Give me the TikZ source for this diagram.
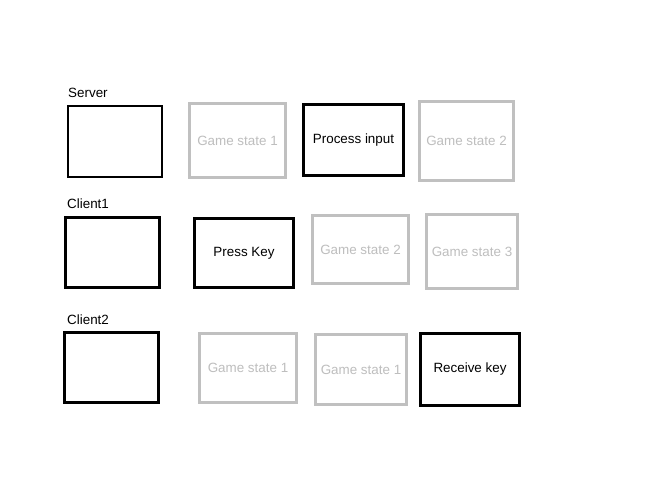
\documentclass[tikz,border=0pt]{standalone}
\usepackage{fontspec}
\setmainfont{Liberation Sans}
\usepackage{xcolor}
\definecolor{lgray}{RGB}{192,192,192}
\definecolor{tgray}{RGB}{190,190,190}

\begin{document}
\begin{tikzpicture}[x=1pt, y=-1pt,
  hbox/.style={draw=black, line width=2.6pt, align=center,
  font=\fontsize{13.4}{16}\selectfont, inner sep=0pt},
  gbox/.style={draw=lgray, line width=2.6pt, text=tgray, align=center,
  font=\fontsize{13.4}{16}\selectfont, inner sep=0pt},
  lbl/.style={anchor=base west, inner sep=0pt, font=\fontsize{13.4}{16}\selectfont}
]
\useasboundingbox[fill=white] (0,0) rectangle (656,497);
% server row
\node[hbox, minimum width=94pt, minimum height=71pt] (srv)  at (115,141.5) {};
\node[gbox, minimum width=96pt, minimum height=74pt] (srvA) at (237.5,140.5) {Game state 1};
\node[hbox, minimum width=100pt, minimum height=71pt] (srvB) at (353.5,140) {Process input};
\node[gbox, minimum width=94pt, minimum height=79pt] (srvC) at (466.5,141) {Game state 2};
\node[lbl] (srvlbl) at (68,98) {Server};
% client1 row
\node[hbox, minimum width=94pt, minimum height=70pt] (cl1)  at (112.5,252.5) {};
\node[hbox, minimum width=99pt, minimum height=69pt] (cl1A) at (244,253) {Press Key};
\node[gbox, minimum width=96pt, minimum height=68pt] (cl1B) at (360.5,249.5) {Game state 2};
\node[gbox, minimum width=91pt, minimum height=74pt] (cl1C) at (472,251.5) {Game state 3};
\node[lbl] (cl1lbl) at (67,209) {Client1};
% client2 row
\node[hbox, minimum width=94pt, minimum height=70pt] (cl2)  at (111.5,367.5) {};
\node[gbox, minimum width=97pt, minimum height=69pt] (cl2A) at (248,368) {Game state 1};
\node[gbox, minimum width=91pt, minimum height=70pt] (cl2B) at (361,369.5) {Game state 1};
\node[hbox, minimum width=99pt, minimum height=72pt] (cl2C) at (470,369.5) {Receive key};
\node[lbl] (cl2lbl) at (67,324) {Client2};
\end{tikzpicture}
\end{document}
